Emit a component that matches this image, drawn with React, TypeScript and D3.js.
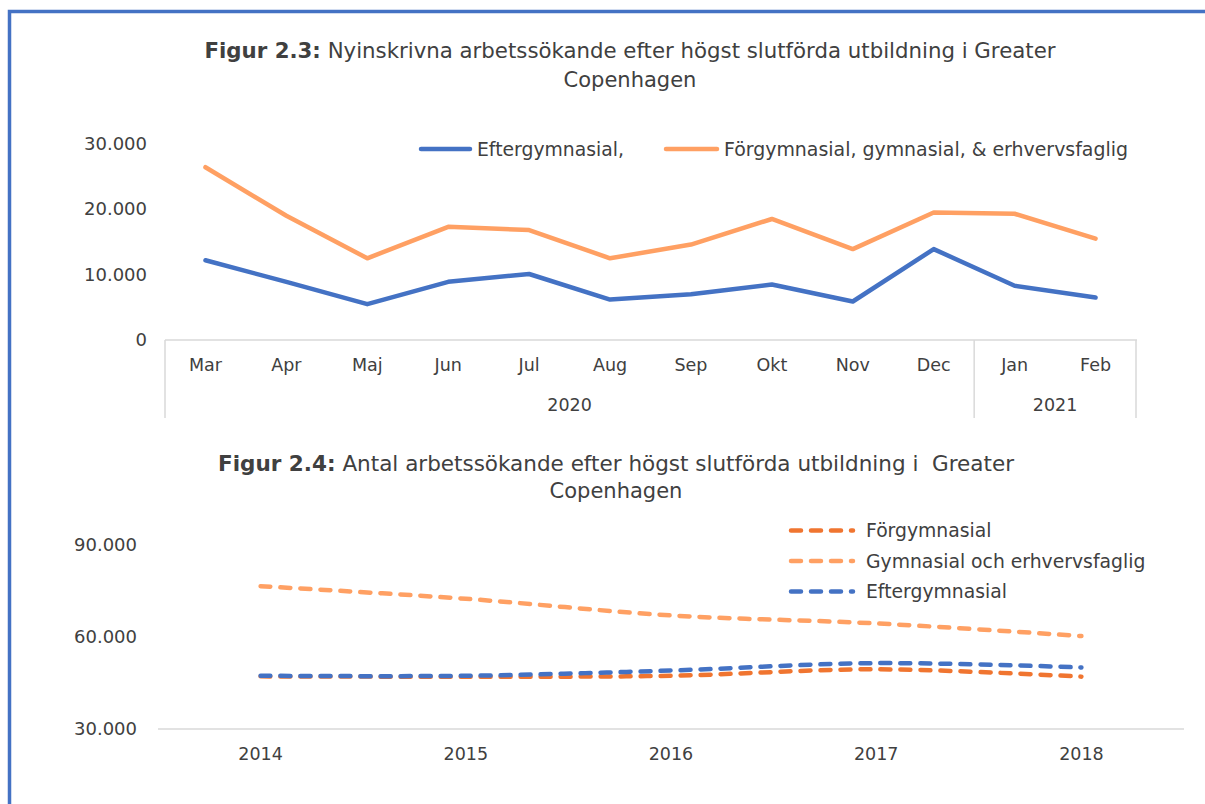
import React from "react";
import * as d3 from "d3";

// ---------- Data: Figur 2.3 ----------
const months = ["Mar", "Apr", "Maj", "Jun", "Jul", "Aug", "Sep", "Okt", "Nov", "Dec", "Jan", "Feb"];
const monthYears = ["2020", "2020", "2020", "2020", "2020", "2020", "2020", "2020", "2020", "2020", "2021", "2021"];
const eftergymnasial23 = [12100, 8800, 5400, 8800, 10000, 6100, 6900, 8400, 5800, 13800, 8200, 6400];
const forgymnasial23 = [26300, 18900, 12400, 17200, 16700, 12400, 14500, 18400, 13800, 19400, 19200, 15400];
const yTicks23 = [0, 10000, 20000, 30000];

// ---------- Data: Figur 2.4 ----------
const years24 = ["2014", "2015", "2016", "2017", "2018"];
const forgymnasial24 = [47000, 46900, 47200, 49300, 46900];
const gymnasial24 = [76300, 72200, 66800, 64200, 60100];
const eftergymnasial24 = [47200, 47200, 48900, 51300, 49900];
const yTicks24 = [30000, 60000, 90000];

const BLUE = "#4472C4";
const ORANGE_LIGHT = "#FFA063";
const ORANGE_DARK = "#F07530";
const TEXT = "#404040";
const GRID = "#D9D9D9";
const FONT = "'DejaVu Sans', Verdana, sans-serif";

const fmt = (v: number) => d3.format(",")(v).replace(/,/g, ".");

export default function App() {
  const W = 1205;
  const H = 804;

  // Top chart scales
  const x1 = d3.scaleBand<string>().domain(months.map((m, i) => m + i)).range([165, 1136]);
  const y1 = d3.scaleLinear().domain([0, 30000]).range([339.5, 143]);
  const cx1 = (i: number) => (x1(months[i] + i) as number) + x1.bandwidth() / 2;
  const line1 = d3
    .line<number>()
    .x((_, i) => cx1(i))
    .y((d) => y1(d));

  const groups: { year: string; start: number; end: number }[] = [];
  monthYears.forEach((y, i) => {
    const last = groups[groups.length - 1];
    if (last && last.year === y) last.end = i;
    else groups.push({ year: y, start: i, end: i });
  });

  // Bottom chart scales
  const x2 = d3.scaleBand<string>().domain(years24).range([158, 1184]);
  const y2 = d3.scaleLinear().domain([30000, 90000]).range([728.7, 544]);
  const cx2 = (i: number) => (x2(years24[i]) as number) + x2.bandwidth() / 2;
  const line2 = d3
    .line<number>()
    .x((_, i) => cx2(i))
    .y((d) => y2(d))
    .curve(d3.curveCatmullRom.alpha(0.5));

  const series24 = [
    { name: "Förgymnasial", data: forgymnasial24, color: ORANGE_DARK },
    { name: "Gymnasial och erhvervsfaglig", data: gymnasial24, color: ORANGE_LIGHT },
    { name: "Eftergymnasial", data: eftergymnasial24, color: BLUE },
  ];

  const fsTick = 18;
  const fsCat = 17.5;
  const fsLeg = 18.8;
  const fsTitle = 21;

  return (
    <svg width={W} height={H} style={{ position: "absolute", left: 0, top: 0, background: "#fff" }} fontFamily={FONT}>
      <rect x={0} y={0} width={W} height={H} fill="#fff" />
      <path d={`M9.5,${H} V11.5 H${W}`} fill="none" stroke={BLUE} strokeWidth={3.5} />

      {/* ===== Figur 2.3 ===== */}
      <text x={630} y={58} textAnchor="middle" fontSize={fsTitle} fill={TEXT} textLength={851} lengthAdjust="spacingAndGlyphs">
        <tspan fontWeight="bold">Figur 2.3:</tspan> Nyinskrivna arbetssökande efter högst slutförda utbildning i Greater
      </text>
      <text x={630} y={87} textAnchor="middle" fontSize={fsTitle} fill={TEXT}>
        Copenhagen
      </text>

      <line x1={421} x2={470} y1={149} y2={149} stroke={BLUE} strokeWidth={4.5} strokeLinecap="round" />
      <text x={477} y={155.5} fontSize={fsLeg} fill={TEXT}>Eftergymnasial,</text>
      <line x1={666} x2={717} y1={149} y2={149} stroke={ORANGE_LIGHT} strokeWidth={4.5} strokeLinecap="round" />
      <text x={724} y={155.5} fontSize={fsLeg} fill={TEXT} textLength={404} lengthAdjust="spacingAndGlyphs">Förgymnasial, gymnasial, &amp; erhvervsfaglig</text>

      {yTicks23.map((t) => (
        <text key={t} x={147} y={y1(t) + 6.5} textAnchor="end" fontSize={fsTick} fill={TEXT}>
          {fmt(t)}
        </text>
      ))}

      <line x1={165} x2={1137} y1={340} y2={340} stroke={GRID} strokeWidth={1.5} />
      {[x1.range()[0], ...groups.map((g) => (x1(months[g.end] + g.end) as number) + x1.bandwidth())].map((xv, i) => (
        <line key={i} x1={xv} x2={xv} y1={340} y2={418} stroke={GRID} strokeWidth={1.5} />
      ))}
      {months.map((m, i) => (
        <text key={m} x={cx1(i)} y={371} textAnchor="middle" fontSize={fsCat} fill={TEXT}>
          {m}
        </text>
      ))}
      {groups.map((g) => {
        const a = x1(months[g.start] + g.start) as number;
        const b = (x1(months[g.end] + g.end) as number) + x1.bandwidth();
        return (
          <text key={g.year} x={(a + b) / 2} y={411} textAnchor="middle" fontSize={fsCat} fill={TEXT}>
            {g.year}
          </text>
        );
      })}

      <path d={line1(forgymnasial23) || ""} fill="none" stroke={ORANGE_LIGHT} strokeWidth={4.5} strokeLinecap="round" strokeLinejoin="round" />
      <path d={line1(eftergymnasial23) || ""} fill="none" stroke={BLUE} strokeWidth={4.5} strokeLinecap="round" strokeLinejoin="round" />

      {/* ===== Figur 2.4 ===== */}
      <text x={616} y={471} textAnchor="middle" fontSize={fsTitle} fill={TEXT} textLength={796} lengthAdjust="spacingAndGlyphs" style={{ whiteSpace: "pre" }}>
        <tspan fontWeight="bold">Figur 2.4:</tspan> Antal arbetssökande efter högst slutförda utbildning i  Greater
      </text>
      <text x={616} y={498} textAnchor="middle" fontSize={fsTitle} fill={TEXT}>
        Copenhagen
      </text>

      {series24.map((s, i) => (
        <g key={s.name}>
          <line x1={791} x2={853} y1={530.5 + i * 30.5} y2={530.5 + i * 30.5} stroke={s.color} strokeWidth={4.5} strokeLinecap="round" strokeDasharray="10 10" />
          <text x={866} y={537 + i * 30.5} fontSize={fsLeg} fill={TEXT}>{s.name}</text>
        </g>
      ))}

      {yTicks24.map((t) => (
        <text key={t} x={137} y={y2(t) + 6.5} textAnchor="end" fontSize={fsTick} fill={TEXT}>
          {fmt(t)}
        </text>
      ))}
      <line x1={158} x2={1184} y1={729} y2={729} stroke={GRID} strokeWidth={1.5} />
      {years24.map((yv, i) => (
        <text key={yv} x={cx2(i)} y={760} textAnchor="middle" fontSize={fsCat} fill={TEXT}>
          {yv}
        </text>
      ))}

      {series24.map((s) => (
        <path key={s.name} d={line2(s.data) || ""} fill="none" stroke={s.color} strokeWidth={4.5} strokeLinecap="round" strokeDasharray="10 10" />
      ))}
    </svg>
  );
}
